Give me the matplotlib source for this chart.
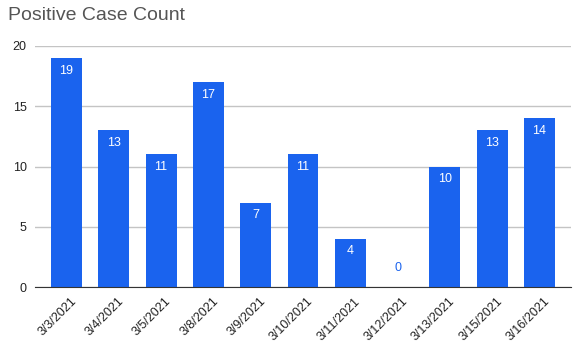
import matplotlib.pyplot as plt
import matplotlib.transforms as mtransforms

plt.rcParams['font.family'] = ['Liberation Sans', 'DejaVu Sans']

# data
dates = ['3/3/2021', '3/4/2021', '3/5/2021', '3/8/2021', '3/9/2021', '3/10/2021',
         '3/11/2021', '3/12/2021', '3/13/2021', '3/15/2021', '3/16/2021']
counts = [19, 13, 11, 17, 7, 11, 4, 0, 10, 13, 14]
yticks = [0, 5, 10, 15, 20]

blue = '#1a63ee'

fig = plt.figure(figsize=(5.79, 3.56), dpi=100)
W, H = 579, 356
ax = fig.add_axes([35 / W, 1 - 287 / H, (571 - 35) / W, (287 - 46) / H])

x = list(range(len(dates)))
bars = ax.bar(x, counts, width=0.655, color=blue, zorder=3)

# value labels: white inside the bar, blue above the baseline when zero
for xi, v in zip(x, counts):
    if v > 0:
        ax.annotate(str(v), (xi, v), xytext=(0, -9), textcoords='offset points',
                    ha='center', va='center', color='white', fontsize=9, zorder=4)
    else:
        ax.annotate(str(v), (xi, v), xytext=(0, 14), textcoords='offset points',
                    ha='center', va='center', color=blue, fontsize=9, zorder=4)

ax.set_xlim(-0.666, 10.666)
ax.set_ylim(0, 20)
ax.set_yticks(yticks)
ax.set_xticks(x)
ax.set_xticklabels(dates, rotation=45, ha='right', rotation_mode='anchor', fontsize=9)
ax.tick_params(axis='y', length=0, pad=6, labelsize=9, labelcolor='#222222')
ax.tick_params(axis='x', length=0, pad=6, labelcolor='#222222')
# nudge the rotated labels a little to the right, like the original
shift = mtransforms.ScaledTranslation(4 / 100, 0, fig.dpi_scale_trans)
for lbl in ax.get_xticklabels():
    lbl.set_transform(lbl.get_transform() + shift)

ax.grid(axis='y', color='#c4c4c4', linewidth=1, zorder=0)
for s in ['top', 'right', 'left']:
    ax.spines[s].set_visible(False)
ax.spines['bottom'].set_color('#333333')
ax.spines['bottom'].set_zorder(5)

fig.text(8 / W, 1 - 16 / H, 'Positive Case Count', fontsize=14, color='#555555',
         ha='left', va='center')

fig.savefig('out.png', dpi=100)
